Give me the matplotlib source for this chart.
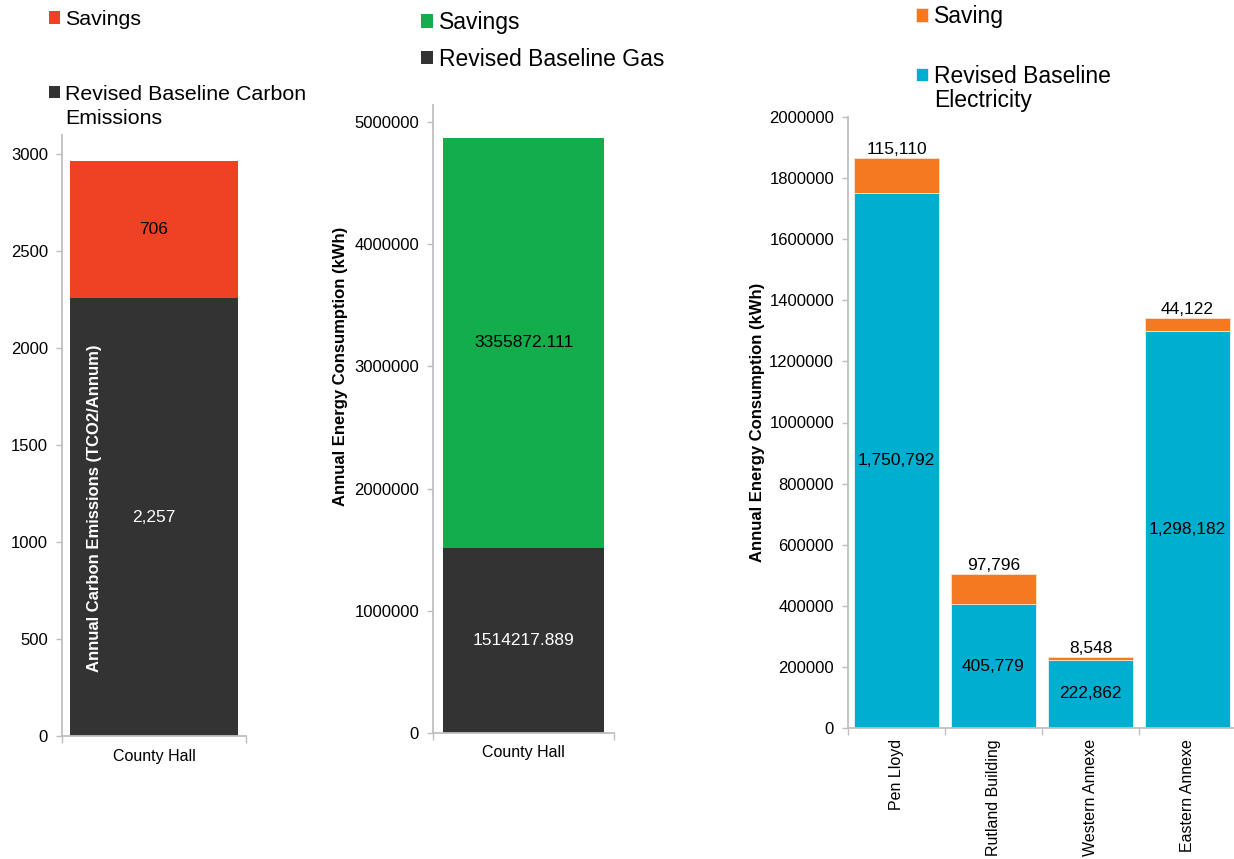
import matplotlib.pyplot as plt
from matplotlib.ticker import StrMethodFormatter

plt.rcParams['font.family'] = ['Liberation Sans', 'DejaVu Sans']

# left panel: carbon emissions
carbon_sites = ['County Hall']
carbon_baseline = [2257]
carbon_savings = [706]
carbon_ticks = [0, 500, 1000, 1500, 2000, 2500, 3000]

# middle panel: gas
gas_sites = ['County Hall']
gas_baseline = [1514217.889]
gas_savings = [3355872.111]
gas_ticks = [0, 1000000, 2000000, 3000000, 4000000, 5000000]

# right panel: electricity
elec_sites = ['Pen Lloyd', 'Rutland Building', 'Western Annexe', 'Eastern Annexe']
elec_baseline = [1750792, 405779, 222862, 1298182]
elec_savings = [115110, 97796, 8548, 44122]
elec_ticks = [0, 200000, 400000, 600000, 800000, 1000000,
              1200000, 1400000, 1600000, 1800000, 2000000]

GREY = '#bfbfbf'
W, H = 1234, 859


def px_axes(x0, x1, ytop, ybot):
    return [x0 / W, 1 - ybot / H, (x1 - x0) / W, (ybot - ytop) / H]


def style(ax, n, ticks):
    for s in ['top', 'right']:
        ax.spines[s].set_visible(False)
    for s in ['left', 'bottom']:
        ax.spines[s].set_color(GREY)
        ax.spines[s].set_linewidth(1.3)
    ax.set_xlim(-0.5, n - 0.5)
    ax.set_yticks(ticks)
    ax.yaxis.set_major_formatter(StrMethodFormatter('{x:.0f}'))
    ax.tick_params(axis='y', color=GREY, labelcolor='black', length=4,
                   width=1, pad=6, labelsize=12)
    ax.tick_params(axis='x', which='major', length=0, labelsize=11.5, pad=9)
    ax.set_xticks([i - 0.5 for i in range(n + 1)], minor=True)
    ax.tick_params(axis='x', which='minor', length=5, color=GREY, width=1)


fig = plt.figure(figsize=(W / 100, H / 100), dpi=100)

# ---- carbon
ax1 = fig.add_axes(px_axes(62, 246, 135, 736))
b1 = ax1.bar(carbon_sites, carbon_baseline, width=0.913, color='#333333')
s1 = ax1.bar(carbon_sites, carbon_savings, bottom=carbon_baseline,
             width=0.913, color='#EF4123')
ax1.bar_label(b1, labels=[f'{v:,.0f}' for v in carbon_baseline],
              label_type='center', color='white', fontsize=12.5)
ax1.bar_label(s1, labels=[f'{v:,.0f}' for v in carbon_savings],
              label_type='center', color='black', fontsize=12.5)
ax1.set_ylim(0, 3098)
style(ax1, len(carbon_sites), carbon_ticks)
ax1.set_ylabel('Annual Carbon Emissions (TCO2/Annum)', color='white',
               fontweight='bold', fontsize=12)
ax1.yaxis.set_label_coords(0.215, 0.379)

# ---- gas
ax2 = fig.add_axes(px_axes(433, 614, 105, 733))
b2 = ax2.bar(gas_sites, gas_baseline, width=0.89, color='#333333')
s2 = ax2.bar(gas_sites, gas_savings, bottom=gas_baseline,
             width=0.89, color='#13AD4B')
ax2.bar_label(b2, labels=[f'{v:.3f}' for v in gas_baseline],
              label_type='center', color='white', fontsize=12.5)
ax2.bar_label(s2, labels=[f'{v:.3f}' for v in gas_savings],
              label_type='center', color='black', fontsize=12.5)
ax2.set_ylim(0, 5139000)
style(ax2, len(gas_sites), gas_ticks)
ax2.set_ylabel('Annual Energy Consumption (kWh)', fontweight='bold',
               fontsize=12)
ax2.yaxis.set_label_coords(-0.47, 0.584)

# ---- electricity
ax3 = fig.add_axes(px_axes(848, 1236, 117, 728))
b3 = ax3.bar(elec_sites, elec_baseline, width=0.885, color='#00AECF',
             edgecolor='#e8f6fa', linewidth=0.6)
s3 = ax3.bar(elec_sites, elec_savings, bottom=elec_baseline,
             width=0.885, color='#F47920', edgecolor='#fbe3d0', linewidth=0.6)
ax3.bar_label(b3, labels=[f'{v:,.0f}' for v in elec_baseline],
              label_type='center', color='black', fontsize=12.5)
ax3.bar_label(s3, labels=[f'{v:,.0f}' for v in elec_savings],
              label_type='edge', padding=1, color='black', fontsize=12.5)
ax3.set_ylim(0, 2000000)
style(ax3, len(elec_sites), elec_ticks)
ax3.tick_params(axis='x', which='major', labelrotation=90, pad=8)
ax3.set_ylabel('Annual Energy Consumption (kWh)', fontweight='bold',
               fontsize=12)
ax3.yaxis.set_label_coords(-0.214, 0.5)

# ---- legends (second line of long entries wraps under the text)
legend_kw = dict(loc='upper left', frameon=False,
                 handlelength=0.52, handleheight=0.52, handletextpad=0.25,
                 borderpad=0, borderaxespad=0)
leg1 = fig.legend([s1, b1], ['Savings', 'Revised Baseline Carbon'],
                  bbox_to_anchor=(49 / W, 1 - 10 / H), labelspacing=2.6,
                  fontsize=15.4, **legend_kw)
leg2 = fig.legend([s2, b2], ['Savings', 'Revised Baseline Gas'],
                  bbox_to_anchor=(421 / W, 1 - 11 / H), labelspacing=0.6,
                  fontsize=16.5, **legend_kw)
leg3 = fig.legend([s3, b3], ['Saving', 'Revised Baseline'],
                  bbox_to_anchor=(916 / W, 1 - 5 / H), labelspacing=1.6,
                  fontsize=16.5, **legend_kw)

fig.canvas.draw()
for leg, extra, fs in ((leg1, 'Emissions', 15.4), (leg3, 'Electricity', 16.5)):
    bb = leg.get_texts()[1].get_window_extent()
    fig.text(bb.x0, bb.y0 - 24, extra, fontsize=fs, va='bottom',
             ha='left', transform=None)

fig.savefig('out.png', dpi=100)
